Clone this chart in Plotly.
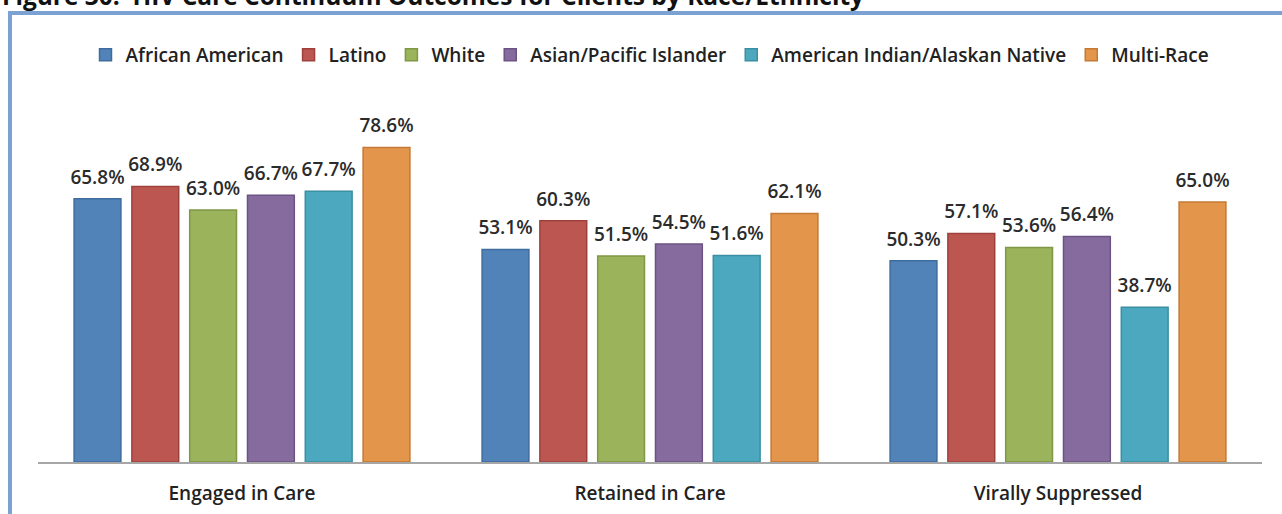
import plotly.graph_objects as go

# HIV care continuum by race/ethnicity (percent)
stages = ["Engaged in Care", "Retained in Care", "Virally Suppressed"]
groups = ["African American", "Latino", "White", "Asian/Pacific Islander",
          "American Indian/Alaskan Native", "Multi-Race"]
african_american = [65.8, 53.1, 50.3]
latino = [68.9, 60.3, 57.1]
white = [63.0, 51.5, 53.6]
asian_pi = [66.7, 54.5, 56.4]
am_indian = [67.7, 51.6, 38.7]
multi_race = [78.6, 62.1, 65.0]
series = [african_american, latino, white, asian_pi, am_indian, multi_race]

fills = ["#5283B8", "#BC5651", "#9BB35B", "#866B9E", "#4CA8BE", "#E3954C"]
edges = ["#3F6C9E", "#9E413D", "#7F9845", "#6B5484", "#3A8FA3", "#C47A35"]

FONT = "Open Sans"
W, H = 1282, 514
L, R, T, B = 38, 20, 102, 52
pw, ph = W - L - R, H - T - B


def px_x(px):
    return (px - L) / pw


def px_y(py):
    return (H - B - py) / ph


fig = go.Figure()
for name, vals, fc, ec in zip(groups, series, fills, edges):
    fig.add_trace(go.Bar(
        x=stages, y=vals, name=name,
        marker=dict(color=fc, line=dict(color=ec, width=1.5)),
    ))

# value labels: invisible markers grouped like the bars, text sitting above them
for name, vals in zip(groups, series):
    fig.add_trace(go.Scatter(
        x=stages, y=vals, mode="markers+text", showlegend=False,
        marker=dict(size=15, opacity=0),
        text=[f"{v:.1f}%" for v in vals],
        textposition="top center",
        textfont=dict(family=FONT, size=19, color="#2b2b2b", weight=600),
        cliponaxis=False, hoverinfo="skip",
    ))

# blue frame around the chart
fig.add_shape(type="rect", xref="paper", yref="paper",
              x0=px_x(10), x1=px_x(1300), y0=px_y(530), y1=px_y(13),
              line=dict(color="#7BA2D3", width=4), layer="below")

# figure caption, clipped by the top of the page
fig.add_annotation(xref="paper", yref="paper", x=px_x(0), y=px_y(-4),
                   xanchor="left", yanchor="middle", showarrow=False,
                   text="<b>Figure 30.  HIV Care Continuum Outcomes for Clients by Race/Ethnicity</b>",
                   font=dict(family=FONT, size=24.5, color="#111111"))

fig.update_layout(
    width=W, height=H,
    margin=dict(l=L, r=R, t=T, b=B, autoexpand=False),
    barmode="group", bargap=0.15, bargroupgap=0.19,
    scattermode="group", scattergap=0.15,
    plot_bgcolor="white", paper_bgcolor="white",
    font=dict(family=FONT, size=19, color="#222222"),
    showlegend=True,
    legend=dict(orientation="h", x=0.5, xanchor="center",
                y=px_y(55), yanchor="middle",
                font=dict(family=FONT, size=19, color="#222222", weight=600),
                itemwidth=30, traceorder="normal"),
    xaxis=dict(showline=True, linecolor="#A6A6A6", linewidth=2, automargin=False,
               ticks="", showgrid=False, ticklabelstandoff=13,
               tickfont=dict(family=FONT, size=19, color="#222222", weight=600)),
    yaxis=dict(range=[0, 90], visible=False, showgrid=False, automargin=False),
)

# page has a default body margin; drop it so the figure sits at the corner
fig.write_html("out.html", config={"displayModeBar": False},
               post_script="document.body.style.margin='0';")
